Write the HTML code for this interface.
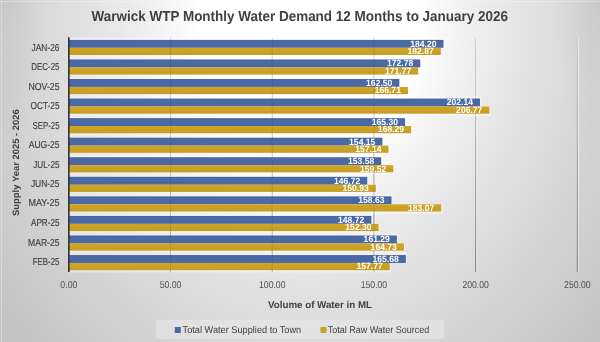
<!DOCTYPE html>
<html><head><meta charset="utf-8"><style>
html,body{margin:0;padding:0;}
body{width:600px;height:342px;overflow:hidden;}
#bg{position:absolute;left:0;top:0;width:600px;height:342px;
background: radial-gradient(ellipse 45px 170px at 0px 0px, rgba(0,0,0,0.05), rgba(0,0,0,0) 100%), radial-gradient(ellipse 45px 170px at 600px 0px, rgba(0,0,0,0.05), rgba(0,0,0,0) 100%), radial-gradient(ellipse 346.7px 409.0px at 309.1px 26.4px, rgb(255.0,255.0,255.0) 0.00%, rgb(255.0,255.0,255.0) 32.67%, rgb(251.5,251.5,251.5) 34.67%, rgb(247.9,247.9,247.9) 37.67%, rgb(242.9,242.9,242.9) 42.67%, rgb(237.7,237.7,237.7) 48.67%, rgb(231.4,231.4,231.4) 56.67%, rgb(224.1,224.1,224.1) 66.67%, rgb(216.1,216.1,216.1) 78.67%, rgb(207.3,207.3,207.3) 92.67%, rgb(195.5,195.5,195.5) 112.67%);}
svg{position:absolute;left:0;top:0;will-change:transform;}
text{font-family:"Liberation Sans", sans-serif;text-rendering:geometricPrecision;}
</style></head><body><div id="bg"></div>
<svg width="600" height="342" viewBox="0 0 600 342">

<defs><linearGradient id="gl" gradientUnits="userSpaceOnUse" x1="0" y1="38" x2="0" y2="272"><stop offset="0" stop-color="#e0e0e0"/><stop offset="0.5" stop-color="#b8b8b8"/><stop offset="1" stop-color="#8c8c8c"/></linearGradient><linearGradient id="gb" x1="0" y1="0" x2="0" y2="1"><stop offset="0" stop-color="#46639c"/><stop offset="0.25" stop-color="#4a6aa6"/><stop offset="0.85" stop-color="#4a69a5"/><stop offset="1" stop-color="#4565a6"/></linearGradient><linearGradient id="gg" x1="0" y1="0" x2="0" y2="1"><stop offset="0" stop-color="#d0a424"/><stop offset="0.3" stop-color="#cea325"/><stop offset="1" stop-color="#c49c26"/></linearGradient></defs>
<rect x="0" y="1" width="600" height="1" fill="#ffffff" fill-opacity="0.3"/><rect x="1" y="1" width="1" height="341" fill="#ffffff" fill-opacity="0.3"/>
<line x1="171.55" y1="37.67" x2="171.55" y2="272.3" stroke="#ffffff" stroke-opacity="0.5" stroke-width="1"/>
<line x1="170.55" y1="37.67" x2="170.55" y2="272.3" stroke="url(#gl)" stroke-width="1"/>
<line x1="273.25" y1="37.67" x2="273.25" y2="272.3" stroke="#ffffff" stroke-opacity="0.5" stroke-width="1"/>
<line x1="272.25" y1="37.67" x2="272.25" y2="272.3" stroke="url(#gl)" stroke-width="1"/>
<line x1="374.95" y1="37.67" x2="374.95" y2="272.3" stroke="#ffffff" stroke-opacity="0.5" stroke-width="1"/>
<line x1="373.95" y1="37.67" x2="373.95" y2="272.3" stroke="url(#gl)" stroke-width="1"/>
<line x1="476.65" y1="37.67" x2="476.65" y2="272.3" stroke="#ffffff" stroke-opacity="0.5" stroke-width="1"/>
<line x1="475.65" y1="37.67" x2="475.65" y2="272.3" stroke="url(#gl)" stroke-width="1"/>
<line x1="578.35" y1="37.67" x2="578.35" y2="272.3" stroke="#ffffff" stroke-opacity="0.5" stroke-width="1"/>
<line x1="577.35" y1="37.67" x2="577.35" y2="272.3" stroke="url(#gl)" stroke-width="1"/>
<rect x="68.85" y="37.60" width="375.76" height="9.85" fill="#ffffff" fill-opacity="0.42"/>
<rect x="68.85" y="47.45" width="373.06" height="9.85" fill="#ffffff" fill-opacity="0.42"/>
<rect x="68.85" y="57.16" width="352.53" height="9.85" fill="#ffffff" fill-opacity="0.42"/>
<rect x="68.85" y="67.01" width="350.48" height="9.85" fill="#ffffff" fill-opacity="0.42"/>
<rect x="68.85" y="76.72" width="331.62" height="9.85" fill="#ffffff" fill-opacity="0.42"/>
<rect x="68.85" y="86.57" width="340.19" height="9.85" fill="#ffffff" fill-opacity="0.42"/>
<rect x="68.85" y="96.28" width="412.25" height="9.85" fill="#ffffff" fill-opacity="0.42"/>
<rect x="68.85" y="106.13" width="421.67" height="9.85" fill="#ffffff" fill-opacity="0.42"/>
<rect x="68.85" y="115.84" width="337.32" height="9.85" fill="#ffffff" fill-opacity="0.42"/>
<rect x="68.85" y="125.69" width="343.40" height="9.85" fill="#ffffff" fill-opacity="0.42"/>
<rect x="68.85" y="135.40" width="314.64" height="9.85" fill="#ffffff" fill-opacity="0.42"/>
<rect x="68.85" y="145.25" width="320.72" height="9.85" fill="#ffffff" fill-opacity="0.42"/>
<rect x="68.85" y="154.96" width="313.48" height="9.85" fill="#ffffff" fill-opacity="0.42"/>
<rect x="68.85" y="164.81" width="325.56" height="9.85" fill="#ffffff" fill-opacity="0.42"/>
<rect x="68.85" y="174.52" width="299.53" height="9.85" fill="#ffffff" fill-opacity="0.42"/>
<rect x="68.85" y="184.37" width="308.09" height="9.85" fill="#ffffff" fill-opacity="0.42"/>
<rect x="68.85" y="194.08" width="323.75" height="9.85" fill="#ffffff" fill-opacity="0.42"/>
<rect x="68.85" y="203.93" width="373.46" height="9.85" fill="#ffffff" fill-opacity="0.42"/>
<rect x="68.85" y="213.64" width="303.60" height="9.85" fill="#ffffff" fill-opacity="0.42"/>
<rect x="68.85" y="223.49" width="310.88" height="9.85" fill="#ffffff" fill-opacity="0.42"/>
<rect x="68.85" y="233.20" width="329.16" height="9.85" fill="#ffffff" fill-opacity="0.42"/>
<rect x="68.85" y="243.05" width="336.16" height="9.85" fill="#ffffff" fill-opacity="0.42"/>
<rect x="68.85" y="252.76" width="338.09" height="9.85" fill="#ffffff" fill-opacity="0.42"/>
<rect x="68.85" y="262.61" width="322.00" height="9.85" fill="#ffffff" fill-opacity="0.42"/>
<rect x="68.85" y="39.90" width="374.66" height="7.90" fill="url(#gb)"/>
<rect x="68.85" y="47.80" width="371.96" height="7.20" fill="url(#gg)"/>
<rect x="68.85" y="59.46" width="351.43" height="7.90" fill="url(#gb)"/>
<rect x="68.85" y="67.36" width="349.38" height="7.20" fill="url(#gg)"/>
<rect x="68.85" y="79.02" width="330.52" height="7.90" fill="url(#gb)"/>
<rect x="68.85" y="86.92" width="339.09" height="7.20" fill="url(#gg)"/>
<rect x="68.85" y="98.58" width="411.15" height="7.90" fill="url(#gb)"/>
<rect x="68.85" y="106.48" width="420.57" height="7.20" fill="url(#gg)"/>
<rect x="68.85" y="118.14" width="336.22" height="7.90" fill="url(#gb)"/>
<rect x="68.85" y="126.04" width="342.30" height="7.20" fill="url(#gg)"/>
<rect x="68.85" y="137.70" width="313.54" height="7.90" fill="url(#gb)"/>
<rect x="68.85" y="145.60" width="319.62" height="7.20" fill="url(#gg)"/>
<rect x="68.85" y="157.26" width="312.38" height="7.90" fill="url(#gb)"/>
<rect x="68.85" y="165.16" width="324.46" height="7.20" fill="url(#gg)"/>
<rect x="68.85" y="176.82" width="298.43" height="7.90" fill="url(#gb)"/>
<rect x="68.85" y="184.72" width="306.99" height="7.20" fill="url(#gg)"/>
<rect x="68.85" y="196.38" width="322.65" height="7.90" fill="url(#gb)"/>
<rect x="68.85" y="204.28" width="372.36" height="7.20" fill="url(#gg)"/>
<rect x="68.85" y="215.94" width="302.50" height="7.90" fill="url(#gb)"/>
<rect x="68.85" y="223.84" width="309.78" height="7.20" fill="url(#gg)"/>
<rect x="68.85" y="235.50" width="328.06" height="7.90" fill="url(#gb)"/>
<rect x="68.85" y="243.40" width="335.06" height="7.20" fill="url(#gg)"/>
<rect x="68.85" y="255.06" width="336.99" height="7.90" fill="url(#gb)"/>
<rect x="68.85" y="262.96" width="320.90" height="7.20" fill="url(#gg)"/>
<line x1="170.55" y1="37.67" x2="170.55" y2="272.3" stroke="#303030" stroke-opacity="0.12" stroke-width="1"/>
<line x1="272.25" y1="37.67" x2="272.25" y2="272.3" stroke="#303030" stroke-opacity="0.12" stroke-width="1"/>
<line x1="373.95" y1="37.67" x2="373.95" y2="272.3" stroke="#303030" stroke-opacity="0.12" stroke-width="1"/>
<line x1="475.65" y1="37.67" x2="475.65" y2="272.3" stroke="#303030" stroke-opacity="0.12" stroke-width="1"/>
<line x1="577.35" y1="37.67" x2="577.35" y2="272.3" stroke="#303030" stroke-opacity="0.12" stroke-width="1"/>
<line x1="68.85" y1="37.37" x2="68.85" y2="272" stroke="#383838" stroke-width="1.7"/>
<text x="436.51" y="46.80" font-size="9" font-weight="bold" fill="#ffffff" text-anchor="end" textLength="26.3" lengthAdjust="spacingAndGlyphs">184.20</text>
<text x="433.81" y="54.15" font-size="9" font-weight="bold" fill="#ffffff" text-anchor="end" textLength="26.3" lengthAdjust="spacingAndGlyphs">182.87</text>
<text x="413.28" y="66.36" font-size="9" font-weight="bold" fill="#ffffff" text-anchor="end" textLength="26.3" lengthAdjust="spacingAndGlyphs">172.78</text>
<text x="411.23" y="73.71" font-size="9" font-weight="bold" fill="#ffffff" text-anchor="end" textLength="26.3" lengthAdjust="spacingAndGlyphs">171.77</text>
<text x="392.38" y="85.92" font-size="9" font-weight="bold" fill="#ffffff" text-anchor="end" textLength="26.3" lengthAdjust="spacingAndGlyphs">162.50</text>
<text x="400.94" y="93.27" font-size="9" font-weight="bold" fill="#ffffff" text-anchor="end" textLength="26.3" lengthAdjust="spacingAndGlyphs">166.71</text>
<text x="473.00" y="105.48" font-size="9" font-weight="bold" fill="#ffffff" text-anchor="end" textLength="26.3" lengthAdjust="spacingAndGlyphs">202.14</text>
<text x="482.42" y="112.83" font-size="9" font-weight="bold" fill="#ffffff" text-anchor="end" textLength="26.3" lengthAdjust="spacingAndGlyphs">206.77</text>
<text x="398.07" y="125.04" font-size="9" font-weight="bold" fill="#ffffff" text-anchor="end" textLength="26.3" lengthAdjust="spacingAndGlyphs">165.30</text>
<text x="404.15" y="132.39" font-size="9" font-weight="bold" fill="#ffffff" text-anchor="end" textLength="26.3" lengthAdjust="spacingAndGlyphs">168.29</text>
<text x="375.39" y="144.60" font-size="9" font-weight="bold" fill="#ffffff" text-anchor="end" textLength="26.3" lengthAdjust="spacingAndGlyphs">154.15</text>
<text x="381.47" y="151.95" font-size="9" font-weight="bold" fill="#ffffff" text-anchor="end" textLength="26.3" lengthAdjust="spacingAndGlyphs">157.14</text>
<text x="374.23" y="164.16" font-size="9" font-weight="bold" fill="#ffffff" text-anchor="end" textLength="26.3" lengthAdjust="spacingAndGlyphs">153.58</text>
<text x="386.31" y="171.51" font-size="9" font-weight="bold" fill="#ffffff" text-anchor="end" textLength="26.3" lengthAdjust="spacingAndGlyphs">159.52</text>
<text x="360.28" y="183.72" font-size="9" font-weight="bold" fill="#ffffff" text-anchor="end" textLength="26.3" lengthAdjust="spacingAndGlyphs">146.72</text>
<text x="368.84" y="191.07" font-size="9" font-weight="bold" fill="#ffffff" text-anchor="end" textLength="26.3" lengthAdjust="spacingAndGlyphs">150.93</text>
<text x="384.50" y="203.28" font-size="9" font-weight="bold" fill="#ffffff" text-anchor="end" textLength="26.3" lengthAdjust="spacingAndGlyphs">158.63</text>
<text x="434.21" y="210.63" font-size="9" font-weight="bold" fill="#ffffff" text-anchor="end" textLength="26.3" lengthAdjust="spacingAndGlyphs">183.07</text>
<text x="364.35" y="222.84" font-size="9" font-weight="bold" fill="#ffffff" text-anchor="end" textLength="26.3" lengthAdjust="spacingAndGlyphs">148.72</text>
<text x="371.63" y="230.19" font-size="9" font-weight="bold" fill="#ffffff" text-anchor="end" textLength="26.3" lengthAdjust="spacingAndGlyphs">152.30</text>
<text x="389.91" y="242.40" font-size="9" font-weight="bold" fill="#ffffff" text-anchor="end" textLength="26.3" lengthAdjust="spacingAndGlyphs">161.29</text>
<text x="396.91" y="249.75" font-size="9" font-weight="bold" fill="#ffffff" text-anchor="end" textLength="26.3" lengthAdjust="spacingAndGlyphs">164.73</text>
<text x="398.84" y="261.96" font-size="9" font-weight="bold" fill="#ffffff" text-anchor="end" textLength="26.3" lengthAdjust="spacingAndGlyphs">165.68</text>
<text x="382.75" y="269.31" font-size="9" font-weight="bold" fill="#ffffff" text-anchor="end" textLength="26.3" lengthAdjust="spacingAndGlyphs">157.77</text>
<text x="59.5" y="51.00" font-size="10.1" fill="#404040" stroke="#404040" stroke-width="0.15" text-anchor="end" textLength="27.90" lengthAdjust="spacingAndGlyphs">JAN-26</text>
<text x="59.5" y="70.00" font-size="10.1" fill="#404040" stroke="#404040" stroke-width="0.15" text-anchor="end" textLength="28.30" lengthAdjust="spacingAndGlyphs">DEC-25</text>
<text x="59.5" y="90.00" font-size="10.1" fill="#404040" stroke="#404040" stroke-width="0.15" text-anchor="end" textLength="30.95" lengthAdjust="spacingAndGlyphs">NOV-25</text>
<text x="59.5" y="109.00" font-size="10.1" fill="#404040" stroke="#404040" stroke-width="0.15" text-anchor="end" textLength="28.95" lengthAdjust="spacingAndGlyphs">OCT-25</text>
<text x="59.5" y="129.00" font-size="10.1" fill="#404040" stroke="#404040" stroke-width="0.15" text-anchor="end" textLength="27.00" lengthAdjust="spacingAndGlyphs">SEP-25</text>
<text x="59.5" y="148.00" font-size="10.1" fill="#404040" stroke="#404040" stroke-width="0.15" text-anchor="end" textLength="30.80" lengthAdjust="spacingAndGlyphs">AUG-25</text>
<text x="59.5" y="168.00" font-size="10.1" fill="#404040" stroke="#404040" stroke-width="0.15" text-anchor="end" textLength="26.30" lengthAdjust="spacingAndGlyphs">JUL-25</text>
<text x="59.5" y="187.00" font-size="10.1" fill="#404040" stroke="#404040" stroke-width="0.15" text-anchor="end" textLength="28.60" lengthAdjust="spacingAndGlyphs">JUN-25</text>
<text x="59.5" y="206.00" font-size="10.1" fill="#404040" stroke="#404040" stroke-width="0.15" text-anchor="end" textLength="31.10" lengthAdjust="spacingAndGlyphs">MAY-25</text>
<text x="59.5" y="226.00" font-size="10.1" fill="#404040" stroke="#404040" stroke-width="0.15" text-anchor="end" textLength="28.50" lengthAdjust="spacingAndGlyphs">APR-25</text>
<text x="59.5" y="246.00" font-size="10.1" fill="#404040" stroke="#404040" stroke-width="0.15" text-anchor="end" textLength="31.40" lengthAdjust="spacingAndGlyphs">MAR-25</text>
<text x="59.5" y="265.00" font-size="10.1" fill="#404040" stroke="#404040" stroke-width="0.15" text-anchor="end" textLength="26.70" lengthAdjust="spacingAndGlyphs">FEB-25</text>
<text x="68.85" y="287.8" font-size="10" fill="#505050" text-anchor="middle" textLength="17" lengthAdjust="spacingAndGlyphs">0.00</text>
<text x="170.55" y="287.8" font-size="10" fill="#505050" text-anchor="middle" textLength="21.8" lengthAdjust="spacingAndGlyphs">50.00</text>
<text x="272.25" y="287.8" font-size="10" fill="#505050" text-anchor="middle" textLength="26.5" lengthAdjust="spacingAndGlyphs">100.00</text>
<text x="373.95" y="287.8" font-size="10" fill="#505050" text-anchor="middle" textLength="26.5" lengthAdjust="spacingAndGlyphs">150.00</text>
<text x="475.65" y="287.8" font-size="10" fill="#505050" text-anchor="middle" textLength="26.5" lengthAdjust="spacingAndGlyphs">200.00</text>
<text x="577.35" y="287.8" font-size="10" fill="#505050" text-anchor="middle" textLength="26.5" lengthAdjust="spacingAndGlyphs">250.00</text>
<text x="91.6" y="20.9" font-size="14.4" font-weight="bold" fill="#404040" textLength="416.4" lengthAdjust="spacingAndGlyphs">Warwick WTP Monthly Water Demand 12 Months to January 2026</text>
<text x="320" y="307.6" font-size="9.9" font-weight="bold" fill="#404040" text-anchor="middle" textLength="104" lengthAdjust="spacingAndGlyphs">Volume of Water in ML</text>
<text transform="translate(19.4,162.6) rotate(-90)" x="0" y="0" font-size="9.2" font-weight="bold" fill="#404040" text-anchor="middle" textLength="106.8" lengthAdjust="spacingAndGlyphs">Supply Year 2025 - 2026</text>
<rect x="156" y="319.9" width="288" height="19.1" fill="#e8e8e8" fill-opacity="0.6"/>
<rect x="174.8" y="327" width="6" height="6" fill="#4a6aa6"/>
<text x="182.6" y="332.6" font-size="9.8" fill="#404040" textLength="118.6" lengthAdjust="spacingAndGlyphs">Total Water Supplied to Town</text>
<rect x="320.5" y="327" width="6" height="6" fill="#cba126"/>
<text x="327.7" y="332.6" font-size="9.8" fill="#404040" textLength="101.6" lengthAdjust="spacingAndGlyphs">Total Raw Water Sourced</text>
</svg></body></html>
